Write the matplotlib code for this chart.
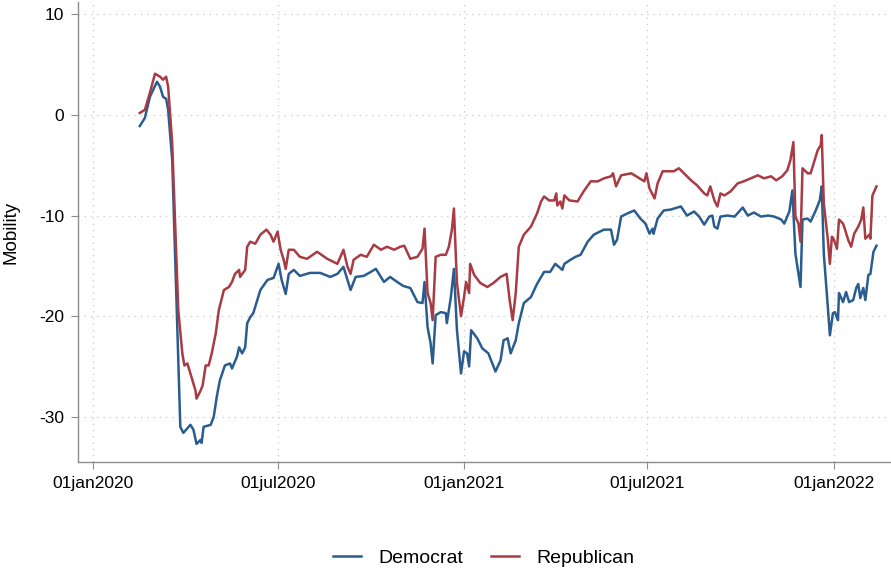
import matplotlib
matplotlib.use('Agg')
import matplotlib.pyplot as plt
import numpy as np
import pandas as pd

# days since 01jan2020 and mobility values
dem_days = [46, 51, 56, 63, 66, 69, 72, 74, 78, 81, 84, 86, 89, 96, 99, 102, 106, 107, 109,
            116, 119, 122, 125, 130, 135, 137, 142, 144, 147, 150, 152, 155, 158, 165, 172,
            178, 183, 186, 190, 193, 198, 204, 214, 224, 234, 241, 247, 254, 259, 267, 274,
            279, 287, 293, 300, 306, 313, 320, 325, 327, 330, 333, 335, 338, 343, 348, 349,
            353, 356, 359, 363, 366, 369, 371, 373, 379, 384, 390, 397, 402, 405, 409, 412,
            417, 420, 425, 432, 438, 445, 451, 456, 463, 465, 471, 476, 481, 488, 494, 504,
            511, 514, 517, 521, 527, 534, 540, 545, 549, 552, 553, 557, 563, 570, 580, 586,
            593, 598, 603, 608, 611, 613, 616, 619, 626, 633, 641, 646, 652, 659, 666, 672,
            679, 682, 687, 690, 693, 695, 698, 700, 705, 708, 713, 717, 719, 721, 725, 727,
            730, 732, 735, 736, 740, 743, 746, 750, 753, 755, 757, 760, 762, 765, 767, 770, 773]
dem_vals = [-1.1, -0.3, 1.8, 3.3, 2.8, 1.8, 1.6, 0.5, -4.5, -14.4, -24.4, -31.0, -31.6, -30.8,
            -31.3, -32.7, -32.3, -32.6, -31.0, -30.8, -30.0, -28.0, -26.4, -24.9, -24.7, -25.2,
            -24.0, -23.1, -23.7, -23.1, -20.7, -20.1, -19.7, -17.4, -16.4, -16.2, -14.8, -16.4,
            -17.8, -15.8, -15.4, -16.0, -15.7, -15.7, -16.1, -15.8, -15.1, -17.4, -16.1, -16.0,
            -15.6, -15.3, -16.6, -16.1, -16.6, -17.0, -17.2, -18.6, -18.7, -16.6, -21.1, -22.7,
            -24.7, -19.9, -19.6, -19.7, -20.7, -18.1, -15.3, -21.4, -25.7, -23.5, -23.7, -25.0,
            -21.4, -22.2, -23.2, -23.7, -25.5, -24.4, -22.4, -22.2, -23.7, -22.4, -20.7, -18.7,
            -18.1, -16.8, -15.6, -15.6, -14.8, -15.4, -14.8, -14.4, -14.1, -13.9, -12.6, -11.9,
            -11.4, -11.4, -12.9, -12.4, -10.1, -9.8, -9.5, -10.3, -10.8, -11.8, -11.3, -11.8,
            -10.3, -9.5, -9.4, -9.1, -10.0, -9.6, -10.1, -10.9, -10.1, -10.0, -11.1, -11.3,
            -10.1, -10.0, -10.1, -9.2, -10.0, -9.7, -10.1, -10.0, -10.1, -10.4, -10.8, -9.6,
            -7.5, -13.8, -15.1, -17.1, -10.4, -10.3, -10.6, -9.5, -8.5, -7.1, -13.8, -19.1,
            -21.9, -19.7, -19.6, -20.4, -17.7, -18.6, -17.6, -18.6, -18.4, -17.2, -16.8, -18.2,
            -17.2, -18.4, -15.9, -15.8, -13.6, -13.0]

rep_days = [46, 51, 56, 61, 66, 69, 72, 74, 78, 81, 84, 88, 90, 93, 98, 101, 102, 106, 108,
            111, 114, 117, 121, 124, 129, 134, 137, 140, 144, 145, 150, 152, 155, 160, 165,
            171, 175, 178, 182, 185, 188, 190, 193, 198, 204, 211, 221, 231, 241, 247, 251,
            254, 257, 264, 270, 277, 284, 290, 297, 303, 307, 313, 320, 325, 327, 330, 333,
            335, 338, 343, 348, 351, 354, 356, 359, 363, 366, 368, 371, 372, 376, 382, 389,
            395, 402, 408, 411, 414, 417, 420, 425, 432, 438, 442, 445, 450, 455, 457, 458,
            461, 463, 465, 470, 478, 484, 491, 498, 504, 511, 513, 516, 521, 531, 539, 544,
            546, 549, 554, 557, 562, 568, 573, 578, 583, 590, 596, 603, 606, 609, 613, 616,
            619, 623, 629, 636, 642, 649, 656, 662, 669, 674, 680, 685, 688, 691, 693, 696,
            698, 700, 705, 708, 712, 715, 718, 719, 721, 725, 727, 729, 731, 734, 736, 740,
            742, 745, 748, 751, 755, 758, 760, 762, 766, 767, 769, 773]
rep_vals = [0.2, 0.5, 2.2, 4.1, 3.8, 3.5, 3.8, 2.8, -2.8, -11.1, -19.4, -23.7, -24.9, -24.7,
            -26.4, -27.4, -28.2, -27.4, -26.9, -24.9, -24.9, -23.7, -21.7, -19.4, -17.4, -17.1,
            -16.6, -15.8, -15.4, -16.1, -15.4, -13.1, -12.6, -12.8, -11.9, -11.4, -11.9, -12.6,
            -11.6, -13.4, -14.4, -15.3, -13.4, -13.4, -14.1, -14.3, -13.6, -14.3, -14.8, -13.4,
            -15.1, -15.8, -14.4, -13.9, -14.1, -12.9, -13.4, -13.1, -13.4, -13.1, -13.0, -14.3,
            -14.1, -13.3, -11.3, -17.7, -18.7, -20.4, -14.1, -13.9, -13.9, -13.1, -11.4, -9.3,
            -16.7, -20.0, -18.1, -16.6, -17.7, -14.8, -15.9, -16.7, -17.1, -16.7, -16.1, -15.8,
            -18.4, -20.4, -17.7, -13.1, -11.9, -11.1, -9.8, -8.6, -8.1, -8.5, -8.5, -7.8, -9.0,
            -8.6, -9.3, -8.0, -8.5, -8.6, -7.6, -6.6, -6.6, -6.3, -6.1, -5.8, -7.1, -6.0, -5.8,
            -6.3, -6.6, -5.8, -7.3, -8.3, -6.8, -5.6, -5.6, -5.6, -5.3, -5.8, -6.5, -7.0, -7.8,
            -8.0, -7.1, -8.5, -9.1, -7.8, -8.0, -7.6, -6.8, -6.6, -6.3, -6.0, -6.3, -6.1, -6.5,
            -6.1, -5.5, -4.5, -2.7, -10.1, -10.8, -12.6, -5.3, -5.8, -5.8, -4.5, -3.5, -3.0,
            -2.0, -8.8, -12.4, -14.8, -12.1, -12.4, -13.3, -10.4, -10.8, -11.4, -12.4, -13.1,
            -11.8, -11.1, -10.4, -9.2, -12.3, -11.9, -12.3, -8.0, -7.1]

tick_dates = ['2020-01-01', '2020-07-01', '2021-01-01', '2021-07-01', '2022-01-01']
tick_labels = ['01jan2020', '01jul2020', '01jan2021', '01jul2021', '01jan2022']
y_ticks = [-30, -20, -10, 0, 10]

start = pd.Timestamp('2020-01-01')
dem_x = start + pd.to_timedelta(dem_days, unit='D')
rep_x = start + pd.to_timedelta(rep_days, unit='D')

plt.rcParams['font.family'] = ['Liberation Sans', 'DejaVu Sans']

fig = plt.figure(figsize=(8.91, 5.69), dpi=100)
ax = fig.add_axes([0.0875, 0.188, 0.911, 0.808])

ax.plot(dem_x, dem_vals, color='#2a5d8f', lw=1.8, label='Democrat')
ax.plot(rep_x, rep_vals, color='#a83b43', lw=1.8, label='Republican')

ax.set_xlim(start - pd.Timedelta(days=15), start + pd.Timedelta(days=786))
ax.set_ylim(-34.5, 11.2)

ax.set_xticks(pd.to_datetime(tick_dates))
ax.set_xticklabels(tick_labels)
ax.set_yticks(y_ticks)
ax.set_yticklabels([str(v) for v in y_ticks])

ax.grid(True, linestyle=(0, (1, 4)), color='#c8c8c8', lw=0.9)
ax.set_axisbelow(True)

for s in ['top', 'right']:
    ax.spines[s].set_visible(False)
for s in ['left', 'bottom']:
    ax.spines[s].set_color('#8c8c8c')
    ax.spines[s].set_linewidth(1.0)

ax.tick_params(axis='both', direction='out', length=5, color='#8c8c8c',
               labelsize=12.5, labelcolor='black', pad=5)

ax.set_ylabel('Mobility', fontsize=13.5, labelpad=14)

fig.legend(handles=ax.get_lines(), loc='center', bbox_to_anchor=(0.543, 0.019), ncol=2,
           frameon=False, fontsize=14, handlelength=1.45, handletextpad=0.9,
           columnspacing=1.4, borderaxespad=0)

fig.savefig('out.png', dpi=100, facecolor='white')
